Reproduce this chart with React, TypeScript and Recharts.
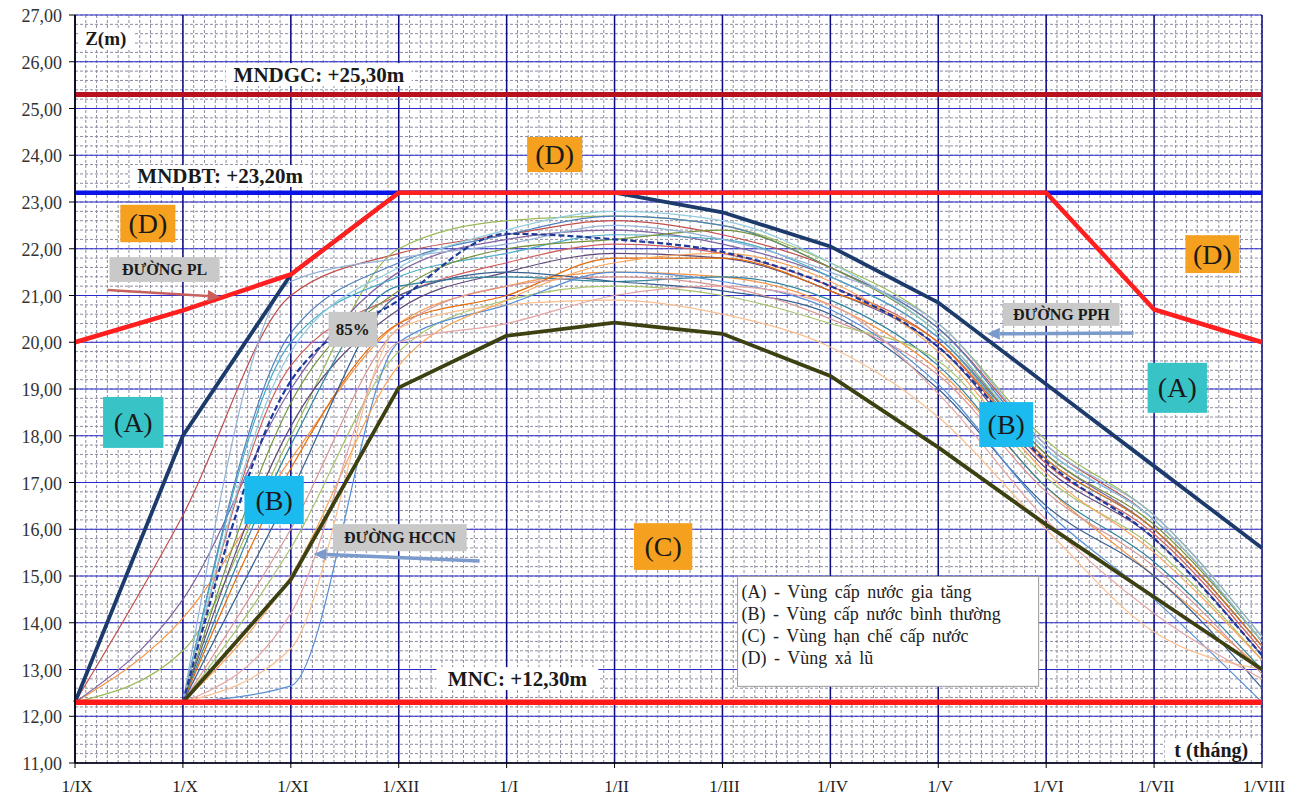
import React from 'react';
import {
  LineChart,
  Line,
  XAxis,
  YAxis,
  CartesianGrid,
  ReferenceArea,
  ReferenceLine,
} from 'recharts';

// Trục thời gian: đầu mỗi tháng, từ 1/IX đến 1/VIII
const months = ['1/IX', '1/X', '1/XI', '1/XII', '1/I', '1/II', '1/III', '1/IV', '1/V', '1/VI', '1/VII', '1/VIII'];
const zTicks = [11, 12, 13, 14, 15, 16, 17, 18, 19, 20, 21, 22, 23, 24, 25, 26, 27];

// Mực nước đặc trưng (m)
const MNDGC = 25.3;
const MNDBT = 23.2;
const MNC = 12.3;

// Đường giới hạn
const duongPL = [20.0, 20.68, 21.45, 23.2, 23.2, 23.2, 23.2, 23.2, 23.2, 23.2, 20.7, 20.0];
const duongPPH = [12.3, 18.0, 21.45, 23.2, 23.2, 23.2, 22.78, 22.05, 20.85, 19.1, 17.35, 15.6];
const duongHCCN = [null, 12.3, 14.92, 19.03, 20.14, 20.42, 20.18, 19.28, 17.75, 16.1, 14.55, 13.0];
const duong85 = [null, 12.3, 19.17, 20.9, 22.32, 22.2, 21.93, 21.2, 19.9, 17.45, 15.8, 13.3];

// Quá trình mực nước các năm
const line01 = [12.3, 16.3, 21.0, 21.9, 22.3, 22.6, 22.3, 21.6, 20.3, 17.8, 16.2, 13.6];
const line02 = [12.3, 13.4, 18.0, 22.0, 22.6, 22.7, 22.5, 21.7, 20.4, 17.9, 16.3, 13.7];
const line03 = [12.3, 14.1, 17.5, 20.4, 21.2, 21.5, 21.4, 20.8, 19.4, 16.9, 15.0, 13.0];
const line04 = [12.3, 14.5, 19.0, 21.5, 22.2, 22.4, 22.1, 21.4, 20.1, 17.6, 16.0, 13.5];
const line05 = [null, 12.3, 20.2, 21.7, 22.3, 22.7, 22.5, 21.6, 20.3, 17.7, 16.2, 13.6];
const line06 = [null, 12.3, 20.0, 21.4, 21.9, 22.3, 22.2, 21.4, 20.1, 17.5, 16.0, 13.5];
const line07 = [null, 12.3, 19.5, 21.0, 21.7, 22.1, 21.9, 21.2, 20.0, 17.4, 15.9, 13.4];
const line08 = [null, 12.3, 18.7, 21.1, 22.0, 22.2, 22.4, 21.6, 20.2, 17.6, 16.1, 13.6];
const line09 = [null, 12.3, 18.2, 20.7, 21.5, 21.9, 21.8, 21.1, 19.9, 17.3, 15.8, 13.3];
const line10 = [null, 12.3, 17.8, 21.2, 21.4, 21.3, 21.4, 20.9, 19.5, 16.9, 15.3, 13.0];
const line11 = [null, 12.3, 17.3, 20.4, 21.0, 21.8, 21.8, 21.1, 20.0, 17.5, 16.0, 13.5];
const line12 = [null, 12.3, 16.8, 21.0, 21.5, 21.3, 21.1, 20.6, 19.0, 16.5, 15.0, 12.6];
const line13 = [null, 12.3, 16.0, 20.3, 21.2, 21.4, 21.2, 20.5, 19.3, 16.8, 15.2, 12.9];
const line14 = [null, 12.3, 15.6, 19.8, 20.9, 21.2, 21.0, 20.4, 19.6, 17.1, 15.6, 13.2];
const line15 = [null, 12.3, 13.45, 20.3, 20.8, 20.9, 20.6, 19.9, 18.4, 16.0, 13.8, 13.0];
const line16 = [null, 12.3, 12.65, 20.0, 20.8, 21.5, 21.3, 20.7, 19.1, 16.4, 14.5, 12.3];
const line17 = [null, 12.3, 19.8, 21.6, 22.4, 22.8, 22.6, 21.7, 20.2, 17.7, 16.2, 13.6];
const line18 = [null, 12.3, 15.0, 19.5, 20.9, 21.7, 21.9, 21.3, 19.8, 17.2, 15.5, 13.2];
const line19 = [null, 12.3, 14.2, 20.0, 20.4, 21.0, 21.2, 20.8, 18.9, 16.2, 14.2, 12.8];
const line20 = [null, 12.3, 21.3, 21.8, 22.1, 22.5, 22.2, 21.5, 20.4, 17.8, 16.3, 13.7];

const yearLines = [
  line01, line02, line03, line04, line05, line06, line07, line08, line09, line10,
  line11, line12, line13, line14, line15, line16, line17, line18, line19, line20,
];
const yearColors = [
  '#C0504D', '#9BBB59', '#F79646', '#8064A2', '#4F81BD', '#4BACC6', '#D0605D', '#77933C', '#604A7B', '#31859C',
  '#E46C0A', '#376092', '#D99694', '#A9C46E', '#FAC090', '#558ED5', '#93CDDD', '#F9A65A', '#E6A5A3', '#95B3D7',
];

const data = months.map((m, i) => {
  const row: Record<string, number | null> = {
    t: i,
    pl: duongPL[i],
    pph: duongPPH[i],
    hccn: duongHCCN[i],
    p85: duong85[i],
    mndgc: MNDGC,
    mndbt: MNDBT,
    mnc: MNC,
  };
  yearLines.forEach((arr, k) => {
    row['y' + k] = arr[i];
  });
  return row;
});

// lưới phụ: 0,2 m và 1/10 tháng
const minorZ: number[] = [];
for (let v = 11; v < 27; v += 0.2) minorZ.push(Math.round(v * 10) / 10);
const minorT: number[] = [];
for (let v = 0; v < 11; v += 0.1) minorT.push(Math.round(v * 10) / 10);

const SERIF = '"Liberation Serif", "Times New Roman", serif';
const TOP = 2000;

const ZTick = (props: any) => {
  const { x, y, payload } = props;
  return (
    <text x={x - 5} y={y + 7} textAnchor="end" fontFamily={SERIF} fontSize={18} fill="#333">
      {payload.value.toFixed(2).replace('.', ',')}
    </text>
  );
};

const MonthTick = (props: any) => {
  const { x, y, payload } = props;
  return (
    <text x={x + 2} y={y + 22} textAnchor="middle" fontFamily={SERIF} fontSize={17} fill="#222">
      {months[payload.value]}
    </text>
  );
};

// ô chữ có nền
const boxLabel =
  (text: string, bg: string, size: number, bold = false, color = '#1a1a1a') =>
  (props: any) => {
    const { x, y, width, height } = props.viewBox;
    return (
      <g>
        <rect x={x} y={y} width={width} height={height} fill={bg} />
        <text
          x={x + width / 2}
          y={y + height / 2}
          textAnchor="middle"
          dominantBaseline="central"
          fontFamily={SERIF}
          fontSize={size}
          fontWeight={bold ? 'bold' : 'normal'}
          fill={color}
        >
          {text}
        </text>
      </g>
    );
  };

const legendLines = [
  '(A) - Vùng cấp nước gia tăng',
  '(B) - Vùng cấp nước bình thường',
  '(C) - Vùng hạn chế cấp nước',
  '(D) - Vùng xả lũ',
];

const legendBox = (props: any) => {
  const { x, y, width, height } = props.viewBox;
  return (
    <g>
      <rect x={x} y={y} width={width} height={height} fill="#fff" stroke="#9a9a9a" strokeWidth={1} />
      {legendLines.map((s, i) => (
        <text
          key={s}
          x={x + 4}
          y={y + 22 + i * 22}
          fontFamily={SERIF}
          fontSize={18}
          wordSpacing={3}
          fill="#222"
        >
          {s}
        </text>
      ))}
    </g>
  );
};

const arrow = (color: string, w: number) => (p: any) => {
  const { x1, y1, x2, y2 } = p;
  const a = Math.atan2(y2 - y1, x2 - x1);
  const len = 13;
  const half = 6;
  const bx = x2 - len * Math.cos(a);
  const by = y2 - len * Math.sin(a);
  const pts = [
    `${x2},${y2}`,
    `${bx + half * Math.sin(a)},${by - half * Math.cos(a)}`,
    `${bx - half * Math.sin(a)},${by + half * Math.cos(a)}`,
  ].join(' ');
  return (
    <g>
      <line x1={x1} y1={y1} x2={bx} y2={by} stroke={color} strokeWidth={w} />
      <polygon points={pts} fill={color} />
    </g>
  );
};

const ORANGE = '#F5A01E';
const TEAL = '#38C4C6';
const CYAN = '#1BBBEF';
const GREY = '#C9C9C9';

export default function App() {
  return (
    <div style={{ position: 'absolute', left: 0, top: 0, background: '#fff' }}>
      <LineChart
        width={1298}
        height={800}
        data={data}
        margin={{ top: 15, right: 36, bottom: 0, left: 0 }}
      >
        <CartesianGrid
          horizontalValues={minorZ}
          verticalValues={minorT}
          stroke="#8c8ca0"
          strokeDasharray="3 2"
          strokeWidth={1}
        />
        <CartesianGrid vertical={false} horizontalValues={zTicks} stroke="#2a2acc" strokeWidth={1.2} />
        <CartesianGrid horizontal={false} verticalValues={[0, 1, 2, 3, 4, 5, 6, 7, 8, 9, 10, 11]} stroke="#0a0a80" strokeWidth={1.5} />
        <XAxis
          type="number"
          dataKey="t"
          domain={[0, 11]}
          ticks={[0, 1, 2, 3, 4, 5, 6, 7, 8, 9, 10, 11]}
          interval={0}
          height={37}
          tickSize={5}
          tick={<MonthTick />}
          axisLine={{ stroke: '#000', strokeWidth: 1.5 }}
          tickLine={{ stroke: '#000' }}
        />
        <YAxis
          type="number"
          domain={[11, 27]}
          ticks={zTicks}
          interval={0}
          width={75}
          tickSize={6}
          tick={<ZTick />}
          axisLine={{ stroke: '#000', strokeWidth: 1.5 }}
          tickLine={{ stroke: '#000' }}
        />
        {yearLines.map((_, k) => (
          <Line
            key={k}
            type="monotone"
            dataKey={'y' + k}
            stroke={yearColors[k]}
            strokeWidth={1.2}
            dot={false}
            activeDot={false}
            isAnimationActive={false}
          />
        ))}
        <Line type="monotone" dataKey="p85" stroke="#1f3a9a" strokeWidth={2.2} strokeDasharray="6 3" dot={false} isAnimationActive={false} />
        <Line type="linear" dataKey="hccn" stroke="#3d4112" strokeWidth={3.8} dot={false} isAnimationActive={false} />
        <Line type="linear" dataKey="pph" stroke="#1c3b6c" strokeWidth={3.8} dot={false} isAnimationActive={false} />
        <Line type="linear" dataKey="mndgc" stroke="#b8101c" strokeWidth={5} dot={false} isAnimationActive={false} />
        <Line type="linear" dataKey="mndbt" stroke="#0a14e6" strokeWidth={4.5} dot={false} isAnimationActive={false} />
        <Line type="linear" dataKey="pl" stroke="#ff1f1f" strokeWidth={4.5} dot={false} isAnimationActive={false} />
        <Line type="linear" dataKey="mnc" stroke="#ff1a1a" strokeWidth={5.5} dot={false} isAnimationActive={false} />

        {/* mũi tên chỉ các đường */}
        <ReferenceLine zIndex={TOP} segment={[{ x: 0.3, y: 21.12 }, { x: 1.35, y: 20.97 }]} shape={arrow('#c8605e', 2.5)} ifOverflow="visible" />
        <ReferenceLine zIndex={TOP} segment={[{ x: 3.75, y: 15.32 }, { x: 2.21, y: 15.47 }]} shape={arrow('#7b9bcc', 3.5)} ifOverflow="visible" />
        <ReferenceLine zIndex={TOP} segment={[{ x: 9.81, y: 20.2 }, { x: 8.45, y: 20.18 }]} shape={arrow('#7b9bcc', 3.5)} ifOverflow="visible" />

        {/* nhãn mực nước */}
        <ReferenceArea zIndex={TOP} x1={0.03} x2={0.54} y1={26.29} y2={26.72} fill="none" label={boxLabel('Z(m)', '#fff', 19, true)} />
        <ReferenceArea zIndex={TOP} x1={1.4} x2={3.12} y1={25.48} y2={25.97} fill="none" label={boxLabel('MNDGC: +25,30m', '#fff', 21, true)} />
        <ReferenceArea zIndex={TOP} x1={0.51} x2={2.18} y1={23.32} y2={23.79} fill="none" label={boxLabel('MNDBT: +23,20m', '#fff', 21, true)} />
        <ReferenceArea zIndex={TOP} x1={3.35} x2={4.85} y1={12.56} y2={13.05} fill="none" label={boxLabel('MNC: +12,30m', '#fff', 21, true)} />
        <ReferenceArea zIndex={TOP} x1={10.1} x2={10.96} y1={11.06} y2={11.49} fill="none" label={boxLabel('t (tháng)', '#fff', 20, true)} />

        {/* tên đường */}
        <ReferenceArea zIndex={TOP} x1={0.32} x2={1.34} y1={21.29} y2={21.82} fill="none" label={boxLabel('ĐƯỜNG PL', GREY, 16, true)} />
        <ReferenceArea zIndex={TOP} x1={2.35} x2={2.8} y1={19.9} y2={20.65} fill="none" label={boxLabel('85%', GREY, 17, true)} />
        <ReferenceArea zIndex={TOP} x1={2.39} x2={3.63} y1={15.53} y2={16.11} fill="none" label={boxLabel('ĐƯỜNG HCCN', GREY, 16, true)} />
        <ReferenceArea zIndex={TOP} x1={8.6} x2={9.68} y1={20.35} y2={20.84} fill="none" label={boxLabel('ĐƯỜNG PPH', GREY, 16, true)} />

        {/* các vùng */}
        <ReferenceArea zIndex={TOP} x1={0.42} x2={0.93} y1={22.14} y2={22.94} fill="none" label={boxLabel('(D)', ORANGE, 28)} />
        <ReferenceArea zIndex={TOP} x1={4.19} x2={4.7} y1={23.64} y2={24.39} fill="none" label={boxLabel('(D)', ORANGE, 28)} />
        <ReferenceArea zIndex={TOP} x1={10.29} x2={10.79} y1={21.48} y2={22.29} fill="none" label={boxLabel('(D)', ORANGE, 28)} />
        <ReferenceArea zIndex={TOP} x1={0.26} x2={0.82} y1={17.74} y2={18.83} fill="none" label={boxLabel('(A)', TEAL, 28)} />
        <ReferenceArea zIndex={TOP} x1={9.94} x2={10.49} y1={18.49} y2={19.56} fill="none" label={boxLabel('(A)', TEAL, 28)} />
        <ReferenceArea zIndex={TOP} x1={1.57} x2={2.12} y1={16.11} y2={17.14} fill="none" label={boxLabel('(B)', CYAN, 28)} />
        <ReferenceArea zIndex={TOP} x1={8.38} x2={8.88} y1={17.76} y2={18.72} fill="none" label={boxLabel('(B)', CYAN, 28)} />
        <ReferenceArea zIndex={TOP} x1={5.18} x2={5.72} y1={15.13} y2={16.13} fill="none" label={boxLabel('(C)', ORANGE, 28)} />

        {/* chú thích */}
        <ReferenceArea zIndex={TOP} x1={6.14} x2={8.93} y1={12.64} y2={14.99} fill="none" label={legendBox} />
      </LineChart>
    </div>
  );
}
